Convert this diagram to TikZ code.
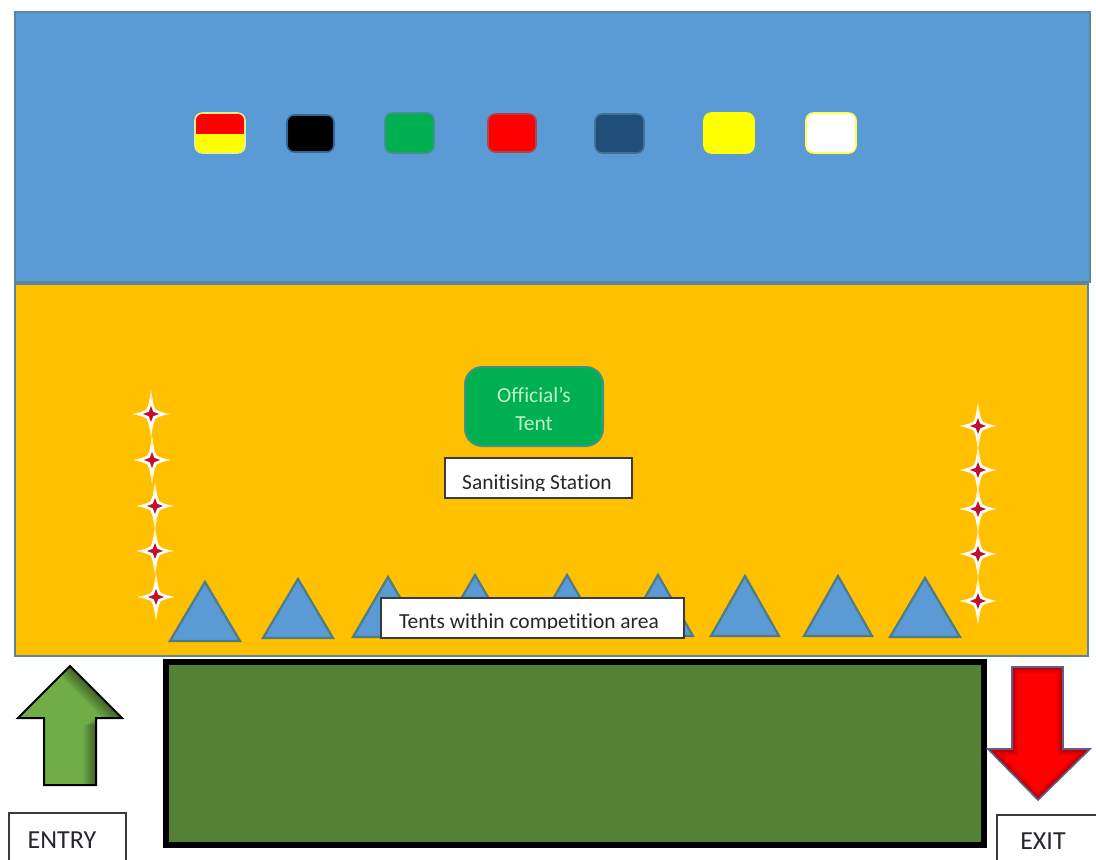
\documentclass[tikz,border=0pt]{standalone}
\usepackage{fontspec}
\setmainfont[Ligatures=NoCommon]{Carlito}
\definecolor{skyband}{HTML}{5B9BD5}
\definecolor{edgeblue}{HTML}{5A86A0}
\definecolor{sandband}{HTML}{FFC000}
\definecolor{grassfill}{HTML}{548235}
\definecolor{arrowgreen}{HTML}{70AD47}
\definecolor{tentgreen}{HTML}{00B050}
\definecolor{tenttext}{HTML}{C0F0C8}
\definecolor{navyflag}{HTML}{1F4E79}
\definecolor{labeltext}{HTML}{26262C}
\definecolor{boxedge}{HTML}{3A3A3A}
\definecolor{redline}{HTML}{5A5F95}
\definecolor{sparkred}{HTML}{C01030}
\definecolor{halo}{HTML}{FFF2C0}
\definecolor{pureyellow}{HTML}{FFFF00}
\definecolor{purered}{HTML}{FF0000}
\definecolor{tentedge}{HTML}{4F7C88}
\tikzset{
  x=0.75pt,y=-0.75pt,
  band/.style={draw=edgeblue,line width=1.2pt},
  flag/.style={rounded corners=5.5pt,line width=1.2pt},
  tenttri/.style={fill=skyband,draw=tentedge,line width=1.7pt,line join=miter},
  labelbox/.style={fill=white,draw=boxedge,line width=0.8pt},
  labeltxt/.style={text=labeltext,anchor=base,inner sep=0pt,font=\fontsize{16.1}{16.1}\selectfont},
}
\newcommand{\sparkle}[2]{%
  \fill[halo] (#1,#2-24) -- (#1+3.6,#2-3.6) -- (#1+19,#2) -- (#1+3.6,#2+3.6) -- (#1,#2+24) -- (#1-3.6,#2+3.6) -- (#1-19,#2) -- (#1-3.6,#2-3.6) -- cycle;
  \fill[white] (#1,#2-15) -- (#1+4.5,#2-4.5) -- (#1+14,#2) -- (#1+4.5,#2+4.5) -- (#1,#2+15) -- (#1-4.5,#2+4.5) -- (#1-14,#2) -- (#1-4.5,#2-4.5) -- cycle;
  \fill[sparkred] (#1,#2-8) -- (#1+2.2,#2-2.2) -- (#1+8,#2) -- (#1+2.2,#2+2.2) -- (#1,#2+8) -- (#1-2.2,#2+2.2) -- (#1-8,#2) -- (#1-2.2,#2-2.2) -- cycle;
}
\newcommand{\tenticon}[4]{\draw[tenttri] (#1,#2) -- (#3,#4) -- (2*#1-#3,#4) -- cycle;}
\begin{document}
\begin{tikzpicture}
\useasboundingbox (0,0) rectangle (1096,860);
\fill[white] (0,0) rectangle (1096,860);
% bands
\draw[band,fill=skyband] (15,12) rectangle (1090,282);
\draw[band,fill=sandband] (15,284) rectangle (1088,656);
% flags
\begin{scope}
  \clip[rounded corners=5.5pt] (195,113) rectangle (245,153);
  \fill[pureyellow] (195,113) rectangle (245,153);
  \fill[purered] (195,113) rectangle (245,134);
\end{scope}
\draw[flag,draw=pureyellow!55!white!85!skyband] (195,113) rectangle (245,153);
\draw[flag,fill=black,draw=navyflag!70!skyband] (287,115) rectangle (334,152);
\draw[flag,fill=tentgreen,draw=edgeblue!70!tentgreen] (385,113) rectangle (434,153);
\draw[flag,fill=purered,draw=edgeblue!50!purered] (488,114) rectangle (536,152);
\draw[flag,fill=navyflag,draw=edgeblue!60!navyflag] (595,114) rectangle (644,153);
\draw[flag,fill=pureyellow,draw=pureyellow] (704,113) rectangle (754,153);
\draw[flag,fill=white,draw=pureyellow!70!white] (806,113) rectangle (856,153);
% sparkles
\sparkle{151}{414}\sparkle{152}{460}\sparkle{155}{506}\sparkle{155}{551}\sparkle{156}{597}
\sparkle{978}{426}\sparkle{978}{470}\sparkle{978}{509}\sparkle{978}{554}\sparkle{978}{601}
% tents
\tenticon{205}{582}{170}{641}
\tenticon{298}{579}{263}{638}
\tenticon{388}{577}{353}{637}
\tenticon{475}{575}{440}{635}
\tenticon{567}{575}{532}{635}
\tenticon{658}{575}{693}{636}
\tenticon{745}{576}{711}{636}
\tenticon{838}{576}{804}{636}
\tenticon{925}{578}{890}{637}
% official's tent
\node[draw=edgeblue!70!tentgreen,fill=tentgreen,line width=1.5pt,rounded corners=13pt,minimum width=103.5pt,minimum height=59.25pt,inner sep=0pt] (officialbox) at (534,406.5) {};
\node[inner sep=0pt,text=tenttext,align=center,font=\fontsize{16.1}{21}\selectfont] (official) at (534,409) {Official’s\\Tent};
% label boxes with cropped text
\draw[labelbox] (445,458) rectangle (632,498);
\begin{scope}
  \clip (445,458) rectangle (632,490);
  \node[labeltxt] (sanitise) at (537,489.5) {Sanitising Station};
\end{scope}
\draw[labelbox] (381,598) rectangle (684,638);
\begin{scope}
  \clip (381,598) rectangle (684,628.5);
  \node[labeltxt] (tents) at (529,628) {Tents within competition area};
\end{scope}
% green field
\draw[fill=grassfill,draw=black,line width=4.5pt,line join=miter] (166,662) rectangle (984,845);
% entry arrow
\begin{scope}
  \clip (70,666) -- (122,718) -- (96,718) -- (96,785) -- (44,785) -- (44,718) -- (18,718) -- cycle;
  \fill[arrowgreen] (0,650) rectangle (140,800);
  \foreach \s in {2,4,...,12}{
    \fill[black,opacity=0.075,even odd rule] (0,650) rectangle (140,800)
      (70-\s,666+\s*0.6) -- (122-\s,718+\s*0.6) -- (96-\s,718+\s*0.6) -- (96-\s,800) -- (20,800) -- (20,718+\s*0.6) -- (-10,718+\s*0.6) -- cycle;
  }
\end{scope}
\draw[black,line width=1.5pt,line join=miter] (70,666) -- (122,718) -- (96,718) -- (96,785) -- (44,785) -- (44,718) -- (18,718) -- cycle;
% exit arrow
\begin{scope}
  \clip (1012,667) -- (1063,667) -- (1063,749) -- (1090,749) -- (1038,800) -- (988,749) -- (1012,749) -- cycle;
  \fill[purered] (980,660) rectangle (1096,805);
  \foreach \w in {3,6,9,12}{
    \draw[black!70!purered,opacity=0.11,line width=\w*0.75pt] (1012,667) -- (1063,667) -- (1063,749) -- (1090,749) -- (1038,800) -- (988,749) -- (1012,749) -- cycle;
  }
\end{scope}
\draw[redline,line width=1.2pt,line join=miter] (1012,667) -- (1063,667) -- (1063,749) -- (1090,749) -- (1038,800) -- (988,749) -- (1012,749) -- cycle;
% entry / exit labels
\draw[boxedge,line width=0.8pt] (9,860) -- (9,813) -- (126,813) -- (126,860);
\node[labeltxt,font=\fontsize{19.5}{19.5}\selectfont] (entry) at (62,848) {ENTRY};
\draw[boxedge,line width=0.8pt] (997,860) -- (997,815) -- (1096,815);
\node[labeltxt,font=\fontsize{19.5}{19.5}\selectfont] (exit) at (1043,849) {EXIT};
\end{tikzpicture}
\end{document}
